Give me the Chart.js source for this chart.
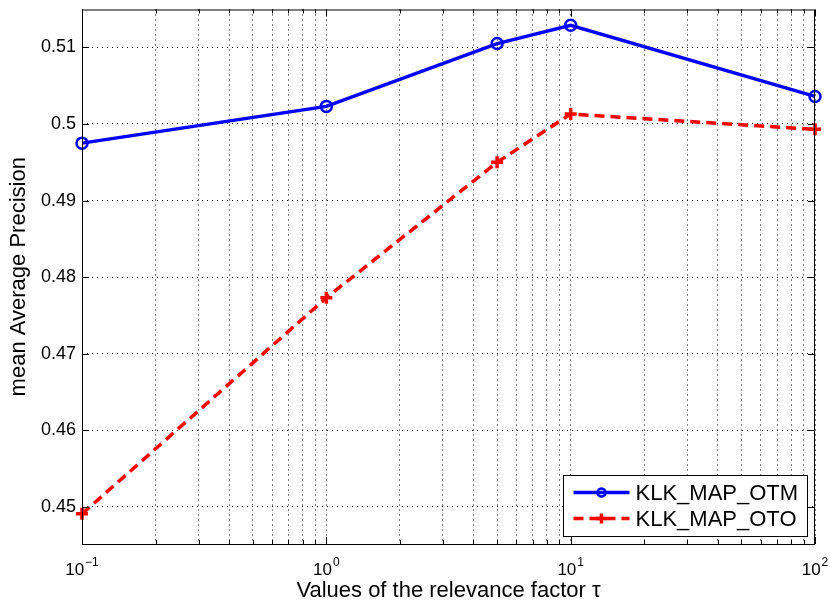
<!DOCTYPE html>
<html lang="en">
<head>
<meta charset="UTF-8">
<title>KLK MAP vs relevance factor</title>
<script src="https://cdn.jsdelivr.net/npm/chart.js@4"></script>
<style>
  body { margin: 0; background: #fff; }
  #wrap { width: 830px; height: 604px; }
</style>
</head>
<body>
<div id="wrap"><canvas id="mapChart"></canvas></div>
<script>
// values
const tauValues = [0.1, 1, 5, 10, 100];
const otmValues = [0.4975, 0.5023, 0.5105, 0.5129, 0.5036];
const otoValues = [0.4491, 0.4773, 0.4950, 0.5013, 0.4993];
const seriesNames = ['KLK_MAP_OTM', 'KLK_MAP_OTO'];

const yTickValues = [0.45, 0.46, 0.47, 0.48, 0.49, 0.5, 0.51];
const yTickLabels = ['0.45', '0.46', '0.47', '0.48', '0.49', '0.5', '0.51'];
const xDecades = [0.1, 1, 10, 100];
const xTickBase = '10';
const xTickExponents = ['\u22121', '0', '1', '2'];

const FONT = '"Liberation Sans", Arial, Helvetica, sans-serif';

// box, inward tick marks, 10^n labels and the legend, drawn the way matlab does it
const matlabFrame = {
    id: 'matlabFrame',
    afterDraw(chart) {
        const ctx = chart.ctx;
        const a = chart.chartArea;
        const xs = chart.scales.x, ys = chart.scales.y;
        ctx.save();
        ctx.strokeStyle = '#000';
        ctx.lineWidth = 1;
        ctx.setLineDash([]);
        ctx.strokeRect(a.left + 0.5, a.top + 0.5, a.right - a.left - 1, a.bottom - a.top);

        ctx.beginPath();
        xs.ticks.forEach(t => {
            const px = Math.round(xs.getPixelForValue(t.value)) + 0.5;
            const len = t.major ? 7 : 4;
            ctx.moveTo(px, a.bottom); ctx.lineTo(px, a.bottom - len);
            ctx.moveTo(px, a.top); ctx.lineTo(px, a.top + len);
        });
        ys.ticks.forEach(t => {
            const py = Math.round(ys.getPixelForValue(t.value)) + 0.5;
            ctx.moveTo(a.left, py); ctx.lineTo(a.left + 7, py);
            ctx.moveTo(a.right, py); ctx.lineTo(a.right - 7, py);
        });
        ctx.stroke();

        // x labels with raised exponent
        ctx.fillStyle = '#000';
        ctx.textBaseline = 'alphabetic';
        ctx.textAlign = 'left';
        xDecades.forEach((d, i) => {
            const px = xs.getPixelForValue(d);
            ctx.font = '17px ' + FONT;
            const wb = ctx.measureText(xTickBase).width;
            ctx.font = '12px ' + FONT;
            const we = ctx.measureText(xTickExponents[i]).width;
            const x0 = px - (wb + we + 1) / 2;
            ctx.font = '17px ' + FONT;
            ctx.fillText(xTickBase, x0, 575);
            ctx.font = '12px ' + FONT;
            ctx.fillText(xTickExponents[i], x0 + wb + 1, 566);
        });

        // legend
        const bx = 563.5, by = 475.5, bw = 244, bh = 61;
        ctx.fillStyle = '#fff';
        ctx.fillRect(bx, by, bw, bh);
        ctx.strokeRect(bx, by, bw, bh);
        chart.data.datasets.forEach((ds, i) => {
            const y = by + 17 + i * 26;
            ctx.strokeStyle = ds.borderColor;
            ctx.lineWidth = ds.borderWidth;
            ctx.setLineDash(ds.borderDash || []);
            ctx.beginPath();
            ctx.moveTo(bx + 10, y); ctx.lineTo(bx + 66, y);
            ctx.stroke();
            ctx.setLineDash([]);
            const mx = bx + 38;
            ctx.lineWidth = 2.5;
            ctx.beginPath();
            if (ds.pointStyle === 'circle') {
                ctx.arc(mx, y, 4, 0, Math.PI * 2);
            } else {
                ctx.moveTo(mx - 5, y); ctx.lineTo(mx + 5, y);
                ctx.moveTo(mx, y - 5); ctx.lineTo(mx, y + 5);
                ctx.lineWidth = 3.5;
            }
            ctx.stroke();
            ctx.fillStyle = '#000';
            ctx.font = '22px ' + FONT;
            ctx.textBaseline = 'middle';
            ctx.fillText(ds.label, bx + 72, y + 1);
        });
        ctx.restore();
    }
};

new Chart(document.getElementById('mapChart'), {
    type: 'line',
    data: {
        datasets: [
            {
                label: seriesNames[0],
                data: tauValues.map((t, i) => ({ x: t, y: otmValues[i] })),
                borderColor: '#0000ff',
                backgroundColor: 'rgba(0,0,0,0)',
                borderWidth: 3.5,
                pointStyle: 'circle',
                pointRadius: 5.5,
                pointBorderWidth: 2.5,
                pointBackgroundColor: 'rgba(0,0,0,0)',
                tension: 0,
                clip: false
            },
            {
                label: seriesNames[1],
                data: tauValues.map((t, i) => ({ x: t, y: otoValues[i] })),
                borderColor: '#ff0000',
                backgroundColor: '#ff0000',
                borderWidth: 3.5,
                borderDash: [10, 6],
                pointStyle: 'cross',
                pointRadius: 6,
                pointBorderWidth: 3.5,
                tension: 0,
                clip: false
            }
        ]
    },
    options: {
        responsive: true,
        maintainAspectRatio: false,
        animation: false,
        layout: { padding: { top: 6, right: 15, left: 0, bottom: 0 } },
        plugins: {
            legend: { display: false },
            tooltip: { enabled: false }
        },
        scales: {
            x: {
                type: 'logarithmic',
                min: 0.1,
                max: 100,
                afterBuildTicks(scale) {
                    const ticks = [];
                    xDecades.forEach((d, i) => {
                        ticks.push({ value: d, major: true });
                        if (i < xDecades.length - 1) {
                            for (let k = 2; k <= 9; k++) ticks.push({ value: k * d, major: false });
                        }
                    });
                    scale.ticks = ticks;
                },
                afterFit(scale) {
                    scale.height = 60;
                    scale.paddingLeft = 0;
                    scale.paddingRight = 0;
                },
                ticks: { display: false, autoSkip: false },
                grid: { color: '#000', lineWidth: 1, drawTicks: false },
                border: { display: false, dash: [1, 4] },
                title: {
                    display: true,
                    text: 'Values of the relevance factor \u03C4',
                    color: '#000',
                    font: { family: FONT, size: 22 },
                    padding: { top: 0, bottom: 0 }
                }
            },
            y: {
                type: 'linear',
                min: 0.44516,
                max: 0.51495,
                afterBuildTicks(scale) {
                    scale.ticks = yTickValues.map(v => ({ value: v }));
                },
                afterFit(scale) {
                    scale.width = 82;
                    scale.paddingTop = 0;
                    scale.paddingBottom = 0;
                },
                ticks: {
                    padding: 6,
                    color: '#000',
                    font: { family: FONT, size: 18 },
                    callback(value) {
                        const idx = yTickValues.findIndex(v => Math.abs(v - value) < 1e-9);
                        return idx >= 0 ? yTickLabels[idx] : '';
                    }
                },
                grid: { color: '#000', lineWidth: 1, drawTicks: false },
                border: { display: false, dash: [1, 4] },
                title: {
                    display: true,
                    text: 'mean Average Precision',
                    color: '#000',
                    font: { family: FONT, size: 22 },
                    padding: { top: 6, bottom: 0 }
                }
            }
        }
    },
    plugins: [matlabFrame]
});
</script>
</body>
</html>
